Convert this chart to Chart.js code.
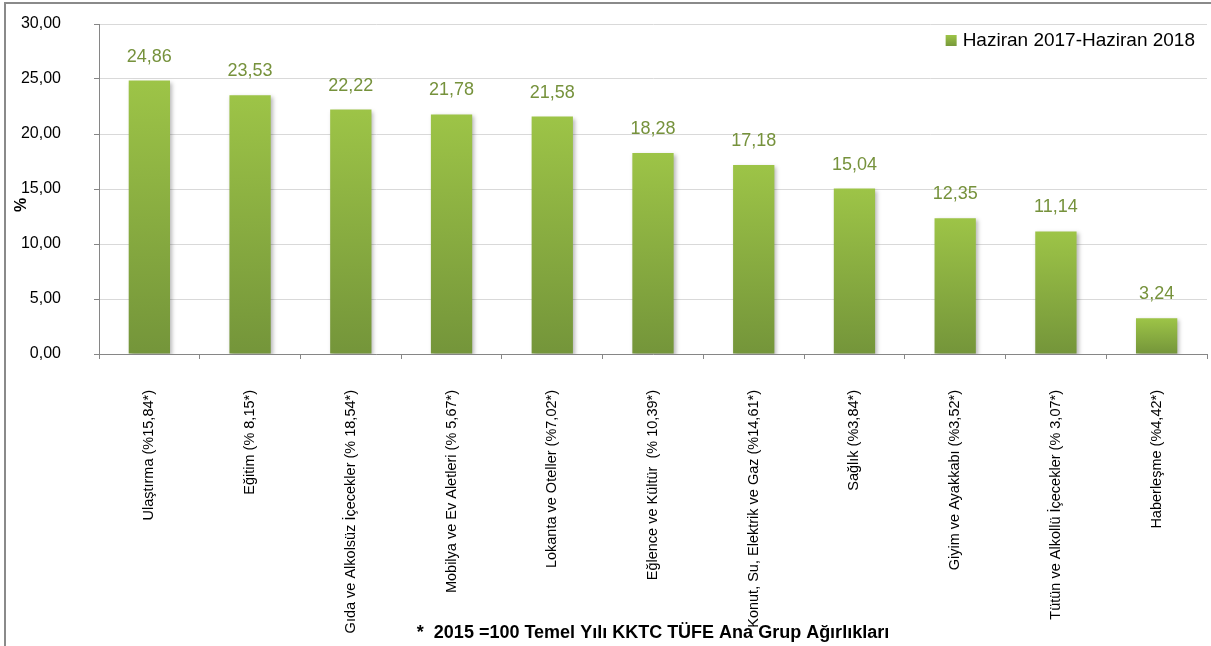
<!DOCTYPE html>
<html>
<head>
<meta charset="utf-8">
<script src="https://cdn.jsdelivr.net/npm/chart.js@4.4.1/dist/chart.umd.min.js"></script>
<style>
  html, body { margin: 0; padding: 0; background: #fff; }
  #wrap { width: 1211px; height: 646px; }
</style>
</head>
<body>
<div id="wrap"><canvas id="chart"></canvas></div>
<script>
// Ana harcama gruplarina gore yillik degisim (%)
const categories = [
  'Ulaştırma (%15,84*)',
  'Eğitim (% 8,15*)',
  'Gıda ve Alkolsüz İçecekler (% 18,54*)',
  'Mobilya ve Ev Aletleri (% 5,67*)',
  'Lokanta ve Oteller (%7,02*)',
  'Eğlence ve Kültür  (% 10,39*)',
  'Konut, Su, Elektrik ve Gaz (%14,61*)',
  'Sağlık (%3,84*)',
  'Giyim ve Ayakkabı (%3,52*)',
  'Tütün ve Alkollü İçecekler (% 3,07*)',
  'Haberleşme (%4,42*)'
]
const values = [24.86, 23.53, 22.22, 21.78, 21.58, 18.28, 17.18, 15.04, 12.35, 11.14, 3.24]
const seriesLabel = 'Haziran 2017-Haziran 2018'
const yMin = 0
const yMax = 30
const yStep = 5
const yTitle = '%'
const footnote = '*  2015 =100 Temel Yılı KKTC TÜFE Ana Grup Ağırlıkları'

const FONT = "'Liberation Sans', Arial, sans-serif"
const LABEL_GREEN = '#76923c'
const fmt = v => Number(v).toFixed(2).replace('.', ',')

// per-bar vertical gradient, light on top, darker at the base
function barGradient(ctx) {
  const chart = ctx.chart
  const y = chart.scales.y
  if (!y || ctx.raw === undefined) return '#8db840'
  const top = y.getPixelForValue(ctx.raw)
  const base = y.getPixelForValue(0)
  if (!isFinite(top) || !isFinite(base) || top === base) return '#8db840'
  const g = chart.ctx.createLinearGradient(0, top, 0, base)
  g.addColorStop(0, '#9dc447')
  g.addColorStop(1, '#74953a')
  return g
}

const decorations = {
  id: 'decorations',
  beforeDraw(chart) {
    const c = chart.ctx
    c.save()
    c.strokeStyle = '#8a8a8a'
    c.lineWidth = 2
    c.beginPath()
    c.moveTo(5, 646)
    c.lineTo(5, 3)
    c.lineTo(1211, 3)
    c.stroke()
    c.restore()
  },
  beforeDatasetsDraw(chart) {
    const c = chart.ctx
    c.save()
    c.shadowColor = 'rgba(0,0,0,0.28)'
    c.shadowBlur = 4
    c.shadowOffsetX = 2
    c.shadowOffsetY = 2
  },
  afterDatasetsDraw(chart) {
    const c = chart.ctx
    c.restore()
    // value labels above bars
    const meta = chart.getDatasetMeta(0)
    c.save()
    c.font = '18px ' + FONT
    c.fillStyle = LABEL_GREEN
    c.textAlign = 'center'
    c.textBaseline = 'middle'
    meta.data.forEach((bar, i) => {
      c.fillText(fmt(chart.data.datasets[0].data[i]), bar.x, bar.y - 24)
    })
    c.restore()
  },
  afterDraw(chart) {
    const c = chart.ctx
    c.save()
    // y axis title, a little below the middle like the original
    c.font = 'bold 16px ' + FONT
    c.fillStyle = '#000'
    c.textAlign = 'center'
    c.textBaseline = 'middle'
    c.translate(22, 205)
    c.rotate(-Math.PI / 2)
    c.fillText(yTitle, 0, 0)
    c.restore()

    c.save()
    // legend
    c.font = '19px ' + FONT
    c.textBaseline = 'middle'
    c.textAlign = 'right'
    const textRight = 1195
    const ly = 41
    c.fillStyle = '#000'
    c.fillText(seriesLabel, textRight, ly)
    const w = c.measureText(seriesLabel).width
    const g = c.createLinearGradient(0, ly - 6, 0, ly + 6)
    g.addColorStop(0, '#9dc447')
    g.addColorStop(1, '#74953a')
    c.fillStyle = g
    c.fillRect(textRight - w - 17, ly - 6, 11, 11)
    // footnote
    c.font = 'bold 18px ' + FONT
    c.textAlign = 'center'
    c.fillStyle = '#000'
    c.fillText(footnote, 653, 633)
    c.restore()
  }
}

new Chart(document.getElementById('chart'), {
  type: 'bar',
  data: {
    labels: categories,
    datasets: [{
      label: seriesLabel,
      data: values,
      backgroundColor: barGradient,
      borderWidth: 0,
      barPercentage: 0.41,
      categoryPercentage: 1
    }]
  },
  options: {
    responsive: true,
    maintainAspectRatio: false,
    animation: false,
    devicePixelRatio: 1,
    layout: { padding: { top: 24, right: 4, left: 0, bottom: 0 } },
    plugins: {
      legend: { display: false },
      tooltip: { enabled: false }
    },
    scales: {
      x: {
        afterFit(scale) { scale.height = 292 },
        grid: {
          offset: true,
          drawOnChartArea: false,
          tickLength: 5,
          tickColor: '#868686'
        },
        border: { color: '#868686', width: 1 },
        ticks: {
          autoSkip: false,
          minRotation: 90,
          maxRotation: 90,
          padding: 31,
          color: '#000',
          font: { family: FONT, size: 14.5 }
        }
      },
      y: {
        min: yMin,
        max: yMax,
        afterFit(scale) {
          scale.width = 99
          // the big tick padding should not push the plot area down
          scale.paddingTop = 10
          scale.paddingBottom = 10
        },
        grid: {
          color: '#d9d9d9',
          tickColor: '#868686',
          tickLength: 5
        },
        border: { color: '#868686', width: 1 },
        ticks: {
          stepSize: yStep,
          padding: 33,
          color: '#000',
          font: { family: FONT, size: 16 },
          callback: v => fmt(v)
        }
      }
    }
  },
  plugins: [decorations]
})
</script>
</body>
</html>
